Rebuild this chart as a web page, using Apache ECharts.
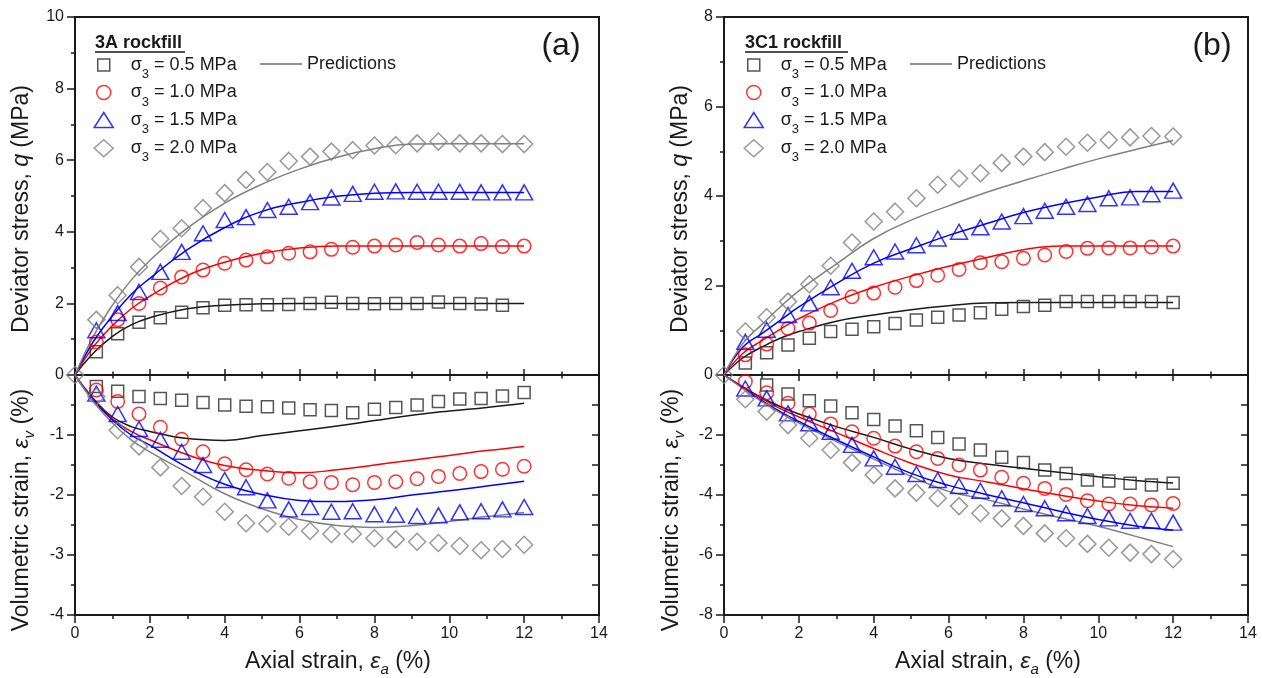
<!DOCTYPE html>
<html><head><meta charset="utf-8">
<script src="https://cdn.jsdelivr.net/npm/echarts@6/dist/echarts.min.js"></script>
<style>html,body{margin:0;padding:0;background:#fff}#c{width:1262px;height:678px}</style>
</head><body><div id="c"></div>
<script>
// ---------- data ----------
const strain = [0,0.57,1.14,1.71,2.28,2.85,3.42,4.0,4.57,5.14,5.71,6.28,6.85,7.42,8.0,8.57,9.14,9.71,10.28,10.85,11.42,12.0];
const names = ['σ3 = 0.5 MPa','σ3 = 1.0 MPa','σ3 = 1.5 MPa','σ3 = 2.0 MPa'];
// panel (a) 3A rockfill
const qA05 = [null,0.65,1.15,1.47,1.6,1.75,1.88,1.95,1.96,1.96,1.97,2.0,2.03,2.0,1.99,2.0,2.0,2.04,2.0,1.98,1.95,null];
const qA10 = [null,0.92,1.54,2.0,2.43,2.74,2.93,3.12,3.21,3.3,3.4,3.44,3.51,3.57,3.6,3.63,3.7,3.63,3.6,3.67,3.59,3.6];
const qA15 = [null,1.25,1.73,2.32,2.88,3.44,3.96,4.33,4.41,4.61,4.7,4.83,4.96,5.06,5.12,5.13,5.12,5.12,5.12,5.1,5.1,5.1];
const qA20 = [null,1.54,2.23,3.02,3.8,4.1,4.66,5.08,5.45,5.67,5.98,6.1,6.24,6.28,6.41,6.42,6.47,6.52,6.47,6.47,6.45,6.45];
const evA05 = [null,-0.19,-0.27,-0.36,-0.39,-0.42,-0.46,-0.5,-0.52,-0.53,-0.55,-0.58,-0.59,-0.63,-0.57,-0.54,-0.5,-0.44,-0.4,-0.39,-0.35,-0.29];
const evA10 = [null,-0.25,-0.44,-0.65,-0.87,-1.07,-1.28,-1.48,-1.58,-1.65,-1.72,-1.78,-1.79,-1.83,-1.79,-1.78,-1.73,-1.69,-1.64,-1.61,-1.57,-1.52];
const evA15 = [null,-0.31,-0.65,-0.9,-1.08,-1.28,-1.5,-1.75,-1.87,-2.09,-2.24,-2.2,-2.28,-2.27,-2.32,-2.33,-2.35,-2.34,-2.29,-2.27,-2.24,-2.2];
const evA20 = [0,-0.36,-0.92,-1.19,-1.54,-1.85,-2.03,-2.28,-2.47,-2.48,-2.53,-2.6,-2.65,-2.65,-2.72,-2.74,-2.78,-2.8,-2.85,-2.92,-2.9,-2.83];
// panel (b) 3C1 rockfill
const qB05 = [null,0.27,0.5,0.67,0.82,0.97,1.02,1.08,1.15,1.23,1.29,1.34,1.39,1.47,1.53,1.56,1.64,1.64,1.64,1.64,1.64,1.62];
const qB10 = [null,0.45,0.69,1.04,1.16,1.44,1.75,1.83,1.96,2.11,2.23,2.36,2.51,2.53,2.61,2.68,2.76,2.83,2.84,2.84,2.86,2.88];
const qB15 = [null,0.74,1.01,1.34,1.6,1.96,2.33,2.63,2.76,2.9,3.05,3.2,3.3,3.43,3.55,3.67,3.76,3.82,3.95,3.97,4.04,4.12];
const qB20 = [null,0.97,1.29,1.64,2.03,2.44,2.96,3.43,3.65,3.95,4.25,4.39,4.51,4.74,4.88,4.98,5.1,5.19,5.25,5.31,5.34,5.33];
const evB05 = [null,null,-0.33,-0.63,-0.86,-1.03,-1.26,-1.48,-1.7,-1.86,-2.08,-2.3,-2.5,-2.74,-2.92,-3.17,-3.28,-3.5,-3.53,-3.61,-3.67,-3.61];
const evB10 = [null,-0.22,-0.59,-0.94,-1.3,-1.63,-1.89,-2.11,-2.37,-2.56,-2.78,-3.0,-3.17,-3.41,-3.61,-3.78,-3.98,-4.19,-4.3,-4.3,-4.33,-4.28];
const evB15 = [null,-0.45,-0.78,-1.28,-1.61,-1.89,-2.33,-2.78,-3.06,-3.3,-3.5,-3.7,-3.86,-4.11,-4.3,-4.44,-4.61,-4.7,-4.78,-4.86,-4.86,-4.92];
const evB20 = [0,-0.81,-1.22,-1.67,-2.11,-2.5,-2.92,-3.33,-3.78,-3.92,-4.11,-4.37,-4.61,-4.78,-5.03,-5.28,-5.44,-5.63,-5.76,-5.92,-5.97,-6.14];
// model predictions (read at these strains)
const predX = [0,0.5,1,1.5,2,3,4,5,6,7,8,9,10,11,12];
const pqA05 = [0,0.62,1.08,1.4,1.6,1.85,1.95,1.99,2.0,2.0,2.0,2.0,2.0,2.0,2.0];
const pqA10 = [0,0.8,1.38,1.85,2.2,2.78,3.15,3.4,3.55,3.6,3.6,3.6,3.6,3.6,3.6];
const pqA15 = [0,0.95,1.65,2.25,2.7,3.5,4.12,4.57,4.82,4.99,5.08,5.1,5.1,5.1,5.1];
const pqA20 = [0,1.1,1.95,2.65,3.2,4.1,4.8,5.33,5.75,6.08,6.32,6.45,6.46,6.46,6.46];
const pevA05 = [0,-0.4,-0.7,-0.86,-0.94,-1.06,-1.09,-1.01,-0.93,-0.85,-0.76,-0.67,-0.6,-0.54,-0.47];
const pevA10 = [0,-0.42,-0.73,-0.94,-1.08,-1.33,-1.51,-1.59,-1.63,-1.58,-1.5,-1.42,-1.34,-1.26,-1.19];
const pevA15 = [0,-0.43,-0.75,-1.0,-1.17,-1.54,-1.82,-1.99,-2.09,-2.11,-2.08,-2.0,-1.93,-1.85,-1.77];
const pevA20 = [0,-0.45,-0.8,-1.08,-1.28,-1.63,-1.98,-2.23,-2.41,-2.51,-2.54,-2.51,-2.44,-2.36,-2.29];
const pqB05 = [0,0.38,0.62,0.82,0.97,1.2,1.34,1.46,1.55,1.61,1.62,1.62,1.62,1.62,1.62];
const pqB10 = [0,0.48,0.76,1.02,1.26,1.65,1.96,2.21,2.43,2.62,2.8,2.88,2.88,2.88,2.88];
const pqB15 = [0,0.62,0.92,1.22,1.52,2.04,2.5,2.82,3.12,3.38,3.63,3.82,3.98,4.1,4.1];
const pqB20 = [0,0.7,1.12,1.52,1.88,2.48,3.05,3.46,3.78,4.08,4.34,4.59,4.83,5.04,5.24];
const pevB05 = [0,-0.4,-0.75,-1.05,-1.3,-1.72,-2.08,-2.47,-2.78,-2.97,-3.11,-3.25,-3.39,-3.52,-3.6];
const pevB10 = [0,-0.4,-0.78,-1.12,-1.4,-1.92,-2.45,-2.94,-3.33,-3.56,-3.79,-4.01,-4.2,-4.35,-4.44];
const pevB15 = [0,-0.42,-0.85,-1.22,-1.55,-2.16,-2.73,-3.28,-3.68,-3.98,-4.26,-4.55,-4.82,-5.03,-5.17];
const pevB20 = [0,-0.45,-0.88,-1.26,-1.6,-2.22,-2.8,-3.38,-3.88,-4.15,-4.47,-4.76,-5.04,-5.38,-5.72];

// ---------- styling ----------
const FONT = "'Liberation Sans', Arial, Helvetica, sans-serif";
const AX = '#1a1a1a';
const COLORS = ['#2b2b2b','#ff0000','#0000ff','#808080'];
const LINECOL = ['#1a1a1a','#ff0000','#0000ff','#808080'];
const SYMS = ['rect','circle','triangle','diamond'];
const SIZES = [[12,12],[13.5,13.5],[17,15],[17,17]];
const LSIZES = [[12,12],[14,14],[19,15],[19,17]];

const grids = [
  {left:75, top:17, width:524, height:358},
  {left:75, top:375, width:524, height:240},
  {left:724, top:17, width:524, height:358},
  {left:724, top:375, width:524, height:240}
].map(g => Object.assign(g, {show:true, borderColor:AX, borderWidth:2, backgroundColor:'transparent'}));

const lineSt = {color:AX, width:2};
const tickSt = {color:AX, width:1.5};
function xAx(gi, pos, inside, labels){
  return {type:'value', gridIndex:gi, min:0, max:14, interval:2, position:pos,
    axisLine:{show:true, onZero:false, lineStyle:lineSt},
    axisTick:{show:true, inside:inside, length:inside?6:8, lineStyle:tickSt},
    minorTick:{show:true, splitNumber:2, length:inside?3.5:4, lineStyle:tickSt},
    axisLabel:{show:labels, fontSize:16, color:AX, fontFamily:FONT, margin:11},
    splitLine:{show:false}, minorSplitLine:{show:false}};
}
function yAx(gi, min, max, interval, pos, opts){
  const right = pos === 'right';
  return {type:'value', gridIndex:gi, min:min, max:max, interval:interval, position:pos,
    axisLine:{show:true, onZero:false, lineStyle:lineSt},
    axisTick:{show:true, inside:right, length:right?7:8, lineStyle:tickSt},
    minorTick:{show:!right, splitNumber:2, length:4, lineStyle:tickSt},
    axisLabel:Object.assign({show:!right, fontSize:16, color:AX, fontFamily:FONT, margin:11}, opts||{}),
    splitLine:{show:false}, minorSplitLine:{show:false}};
}
const xAxis = [
  xAx(0,'bottom',true,false), xAx(1,'bottom',false,true), xAx(1,'top',true,false),
  xAx(2,'bottom',true,false), xAx(3,'bottom',false,true), xAx(3,'top',true,false)
];
const yAxis = [
  yAx(0,0,10,2,'left',{showMinLabel:false}), yAx(1,-4,0,1,'left'), yAx(1,-4,0,0.5,'right'),
  yAx(2,0,8,2,'left',{showMinLabel:false}), yAx(3,-8,0,2,'left'), yAx(3,-8,0,1,'right')
];

const series = [];
function scat(k, ys, xi, yi){
  series.push({type:'scatter', name:names[k], xAxisIndex:xi, yAxisIndex:yi,
    symbol:SYMS[k], symbolSize:SIZES[k],
    itemStyle:{color:'transparent', borderColor:COLORS[k], borderWidth:1.5},
    emphasis:{disabled:true}, z:3,
    data: strain.map((x,i)=>[x, ys[i]]).filter(d => d[1] !== null)});
}
function pred(k, ys, xi, yi){
  series.push({type:'line', name:'Predictions', xAxisIndex:xi, yAxisIndex:yi,
    smooth:0.45, symbol:'none', showSymbol:false,
    lineStyle:{color:LINECOL[k], width:1.5}, itemStyle:{color:LINECOL[k]},
    emphasis:{disabled:true}, z:2,
    data: predX.map((x,i)=>[x, ys[i]])});
}
[pqA05,pqA10,pqA15,pqA20].forEach((d,k)=>pred(k,d,0,0));
[pevA05,pevA10,pevA15,pevA20].forEach((d,k)=>pred(k,d,1,1));
[pqB05,pqB10,pqB15,pqB20].forEach((d,k)=>pred(k,d,3,3));
[pevB05,pevB10,pevB15,pevB20].forEach((d,k)=>pred(k,d,4,4));
[qA05,qA10,qA15,qA20].forEach((d,k)=>scat(k,d,0,0));
[evA05,evA10,evA15,evA20].forEach((d,k)=>scat(k,d,1,1));
[qB05,qB10,qB15,qB20].forEach((d,k)=>scat(k,d,3,3));
[evB05,evB10,evB15,evB20].forEach((d,k)=>scat(k,d,4,4));

// ---------- legends ----------
const rowY = [64, 91.5, 119, 147];
const legends = [];
function richText(){
  return {t:{fontSize:18, fontFamily:FONT, color:AX, lineHeight:32},
          s:{fontSize:13, fontFamily:FONT, color:AX, lineHeight:13, verticalAlign:'bottom'}};
}
[103, 753].forEach(cx => {
  names.forEach((n,k) => {
    const w = LSIZES[k][0], h = LSIZES[k][1];
    legends.push({data:[n], orient:'horizontal', left:cx - w/2, top:rowY[k]-8,
      itemWidth:w, itemHeight:h, symbolKeepAspect:false, padding:0, selectedMode:false,
      itemStyle:{borderWidth:1.5},
      formatter: s => '{t|σ}{s|3}{t|' + s.slice(2) + '}',
      textStyle:{fontSize:18, fontFamily:FONT, color:AX, padding:[0,0,0,22 - w/2], rich:richText()}});
  });
});
[260, 910].forEach(lx => {
  legends.push({data:[{name:'Predictions', icon:'rect', itemStyle:{color:'#6e6e6e', borderWidth:0}}],
    left:lx, top:rowY[0]-16, itemWidth:42, itemHeight:1.5, padding:0, selectedMode:false,
    textStyle:{fontSize:18, fontFamily:FONT, color:AX, lineHeight:32}});
});

// ---------- titles / labels ----------
const titleRich = {
  t:{fontSize:23, fontFamily:FONT, fill:AX, lineHeight:30},
  i:{fontSize:23, fontFamily:FONT, fontStyle:'italic', fill:AX, lineHeight:30},
  s:{fontSize:15, fontFamily:FONT, fontStyle:'italic', fill:AX, lineHeight:15, verticalAlign:'bottom'}
};
function ttl(x, y, text, rot){
  return {type:'text', x:x, y:y, rotation:rot?Math.PI/2:0, silent:true,
    style:{text:text, rich:titleRich, align:'center', verticalAlign:'middle', fontSize:23, fontFamily:FONT, fill:AX}};
}
const qTitle = '{t|Deviator stress, }{i|q}{t| (MPa)}';
const vTitle = '{t|Volumetric strain, }{i|ε}{s|v}{t| (%)}';
const xTitle = '{t|Axial strain, }{i|ε}{s|a}{t| (%)}';
const graphic = [
  ttl(22, 209, qTitle, true), ttl(22, 510, vTitle, true), ttl(338, 662, xTitle, false),
  ttl(681, 209, qTitle, true), ttl(672, 510, vTitle, true), ttl(988, 662, xTitle, false),
  {type:'text', x:95, y:43, silent:true, style:{text:'3A rockfill', fontSize:18, fontWeight:'bold', fontFamily:FONT, fill:AX, align:'left', verticalAlign:'middle'}},
  {type:'line', silent:true, shape:{x1:95, y1:52, x2:185, y2:52}, style:{stroke:AX, lineWidth:1.5}},
  {type:'text', x:745, y:43, silent:true, style:{text:'3C1 rockfill', fontSize:18, fontWeight:'bold', fontFamily:FONT, fill:AX, align:'left', verticalAlign:'middle'}},
  {type:'line', silent:true, shape:{x1:745, y1:52, x2:848, y2:52}, style:{stroke:AX, lineWidth:1.5}},
  {type:'text', x:561, y:46, silent:true, style:{text:'(a)', fontSize:32, fontFamily:FONT, fill:AX, align:'center', verticalAlign:'middle'}},
  {type:'text', x:1212, y:46, silent:true, style:{text:'(b)', fontSize:32, fontFamily:FONT, fill:AX, align:'center', verticalAlign:'middle'}}
];

const chart = echarts.init(document.getElementById('c'), null, {renderer:'canvas'});
chart.setOption({animation:false, backgroundColor:'#fff', grid:grids, xAxis:xAxis, yAxis:yAxis,
  legend:legends, series:series, graphic:graphic, tooltip:{show:false}});
</script></body></html>
